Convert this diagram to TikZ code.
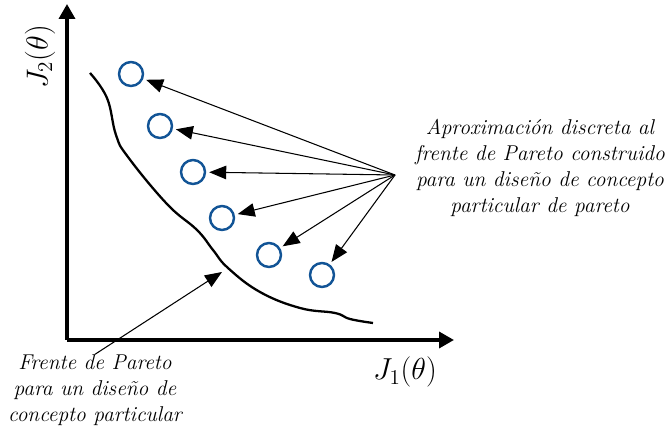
\documentclass[tikz,border=0pt]{standalone}
\usepackage{amsmath,amssymb}
\usepackage{xcolor}
\usepackage{tikz}
\usetikzlibrary{arrows.meta,calc,positioning}
\definecolor{ptblue}{RGB}{18,84,150}

\begin{document}
\begin{tikzpicture}[x=0.02cm,y=-0.02cm,line join=round,
  punto/.style={circle,draw=ptblue,line width=1.4pt,minimum size=0.48cm,inner sep=0pt,outer sep=2.4pt},
  flecha/.style={-{Triangle[length=0.34cm,width=0.27cm]},line width=0.6pt},
  rotulo/.style={font=\fontsize{12.2}{14.7}\selectfont\itshape,align=center,inner sep=0pt}]
  \useasboundingbox (0,0) rectangle (667,432);
  % ejes
  \coordinate (o) at (67,340); \coordinate (ytop) at (67,4); \coordinate (xend) at (454,340);
  \draw[line width=2pt,-{Triangle[length=0.3cm,width=0.32cm]}] (o)--(ytop);
  \draw[line width=2pt,-{Triangle[length=0.3cm,width=0.32cm]}] (o)--(xend);
  \node[rotate=90,font=\fontsize{17.5}{20}\selectfont] (j2) at (40,57) {$J_2(\theta)$};
  \node[font=\fontsize{17}{20}\selectfont] (j1) at (405,372) {$J_1(\theta)$};
  % frente de Pareto
  \draw[line width=1.3pt] plot[smooth,tension=0.7] coordinates {(90,73) (107,98) (116,135) (128,157) (167,204) (197,230) (213,250) (228,268) (260,292) (300,308) (335,313) (350,319) (373,323)};
  \coordinate (fp) at (222,272);
  % puntos aproximados
  \foreach \i/\p in {1/{(131,74)},2/{(160,126)},3/{(193,172)},4/{(222,218)},5/{(269,255)},6/{(322,275)}}
    \node[punto] (c\i) at \p {};
  \node[rotulo] (aprox) at (540,168) {Aproximaci\'on discreta al\\frente de Pareto construido\\para un dise\~no de concepto\\particular de pareto};
  \coordinate (src) at (395,175);
  \foreach \i in {1,...,6} \draw[flecha] (src)--(c\i);
  \node[rotulo] (front) at (95,390) {Frente de Pareto\\para un dise\~no de\\concepto particular};
  \draw[flecha] (front.north)--(fp);
\end{tikzpicture}
\end{document}
